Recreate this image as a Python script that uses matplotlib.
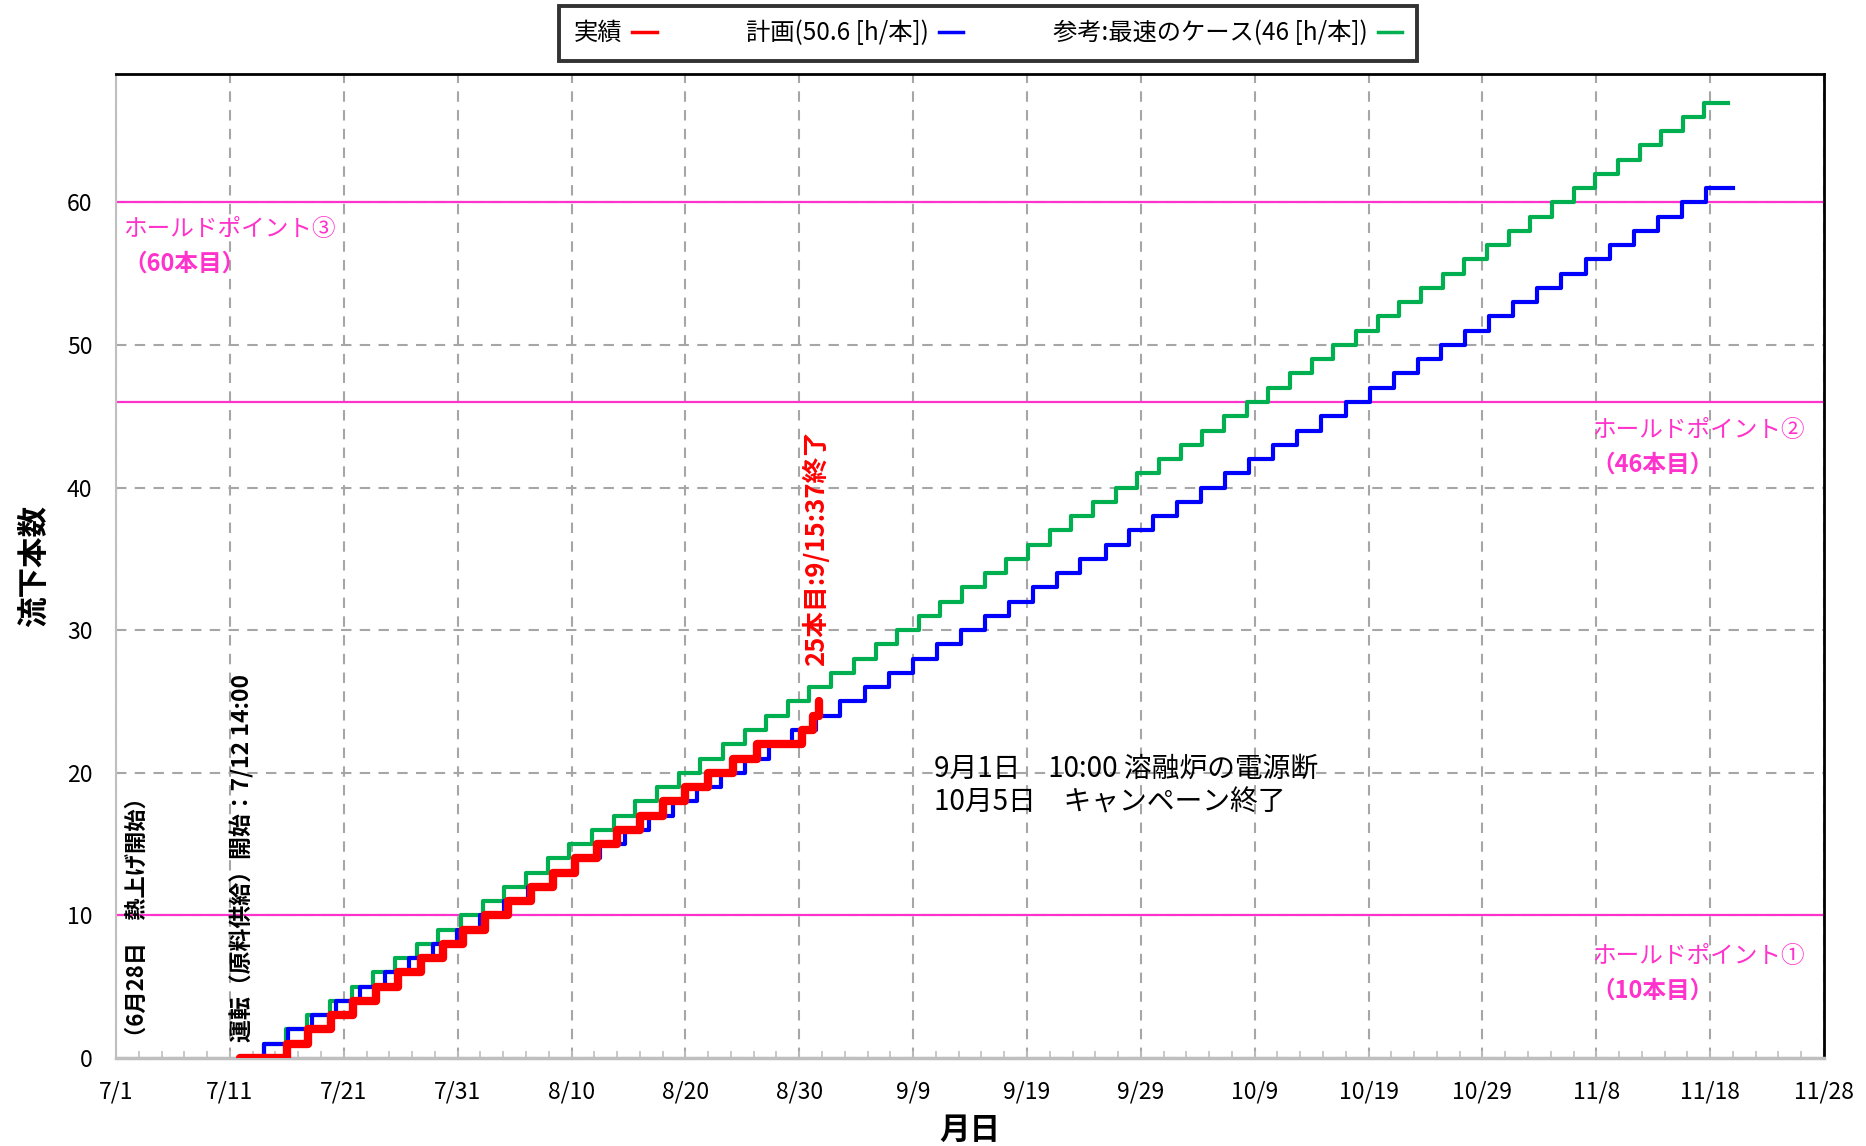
import matplotlib
matplotlib.use('Agg')
import matplotlib.pyplot as plt
from matplotlib.lines import Line2D
from matplotlib.ticker import MultipleLocator, FixedLocator

plt.rcParams['font.family'] = ['Noto Sans CJK JP', 'DejaVu Sans']

# ---- data (x = days since 7/1) ----
x_tick_pos = [0, 10, 20, 30, 40, 50, 60, 70, 80, 90, 100, 110, 120, 130, 140, 150]
x_tick_labels = ['7/1', '7/11', '7/21', '7/31', '8/10', '8/20', '8/30', '9/9',
                 '9/19', '9/29', '10/9', '10/19', '10/29', '11/8', '11/18', '11/28']
y_ticks = [0, 10, 20, 30, 40, 50, 60]

actual_start = 10.9
actual_steps = [15.0, 16.9, 18.9, 20.8, 22.8, 24.8, 26.8, 28.7, 30.5, 32.4,
                34.4, 36.4, 38.4, 40.3, 42.2, 44.0, 46.0, 48.0, 50.0, 52.0,
                54.2, 56.25, 60.2, 61.2, 61.75]

plan_start = 10.9
plan_steps = [13.0, 15.1, 17.2, 19.3, 21.4, 23.6, 25.7, 27.8, 29.9, 32.0,
              34.1, 36.2, 38.3, 40.4, 42.5, 44.7, 46.8, 48.9, 51.0, 53.1,
              55.2, 57.3, 59.4, 61.5, 63.6, 65.8, 67.9, 70.0, 72.1, 74.2,
              76.3, 78.4, 80.5, 82.6, 84.7, 86.9, 89.0, 91.1, 93.2, 95.3,
              97.4, 99.5, 101.6, 103.7, 105.8, 108.0, 110.1, 112.2, 114.3, 116.4,
              118.5, 120.6, 122.7, 124.8, 126.9, 129.1, 131.2, 133.3, 135.4, 137.5,
              139.6]
plan_end = 142.0

fast_start = 10.9
fast_steps = [13.0, 14.9, 16.8, 18.8, 20.7, 22.6, 24.5, 26.4, 28.3, 30.3,
              32.2, 34.1, 36.0, 37.9, 39.8, 41.8, 43.7, 45.6, 47.5, 49.4,
              51.3, 53.3, 55.2, 57.1, 59.0, 60.9, 62.8, 64.8, 66.7, 68.6,
              70.5, 72.4, 74.3, 76.3, 78.2, 80.1, 82.0, 83.9, 85.8, 87.8,
              89.7, 91.6, 93.5, 95.4, 97.3, 99.3, 101.2, 103.1, 105.0, 106.9,
              108.9, 110.8, 112.7, 114.6, 116.5, 118.4, 120.4, 122.3, 124.2, 126.1,
              128.0, 129.9, 131.9, 133.8, 135.7, 137.6, 139.5]
fast_end = 141.6

hold_points = [10, 46, 60]
hold_labels = ['ホールドポイント①', 'ホールドポイント②', 'ホールドポイント③']
hold_sub = ['（10本目）', '（46本目）', '（60本目）']

legend_labels = ['実績', '計画(50.6 [h/本])', '参考:最速のケース(46 [h/本])']

RED = '#FF0000'
BLUE = '#0000FF'
GREEN = '#00B050'
MAG = '#FF33CC'
GRID = '#A6A6A6'

fig = plt.figure(figsize=(18.66, 11.46), dpi=100)
ax = fig.add_axes([0.0622, 0.0768, 0.9153, 0.8586])

# step series
rx = [actual_start] + actual_steps
ry = list(range(len(rx)))
bx = [plan_start] + plan_steps + [plan_end]
by = list(range(len(plan_steps) + 1)) + [len(plan_steps)]
gx = [fast_start] + fast_steps + [fast_end]
gy = list(range(len(fast_steps) + 1)) + [len(fast_steps)]

ax.step(gx, gy, where='post', color=GREEN, lw=3, zorder=3)
ax.step(bx, by, where='post', color=BLUE, lw=3, zorder=4)
ax.step(rx, ry, where='post', color=RED, lw=6, zorder=5, solid_capstyle='round')

for hp in hold_points:
    ax.axhline(hp, color=MAG, lw=1.6, zorder=2)

ax.set_xlim(0, 150)
ax.set_ylim(0, 69)
ax.xaxis.set_major_locator(FixedLocator(x_tick_pos))
ax.set_xticklabels(x_tick_labels)
ax.xaxis.set_minor_locator(MultipleLocator(2))
ax.set_yticks(y_ticks)

ax.grid(True, which='major', color=GRID, lw=1.5, ls=(0, (5, 4)), zorder=1)
ax.tick_params(axis='x', which='both', direction='in', length=5, color='#BFBFBF',
               width=1.2, labelsize=16.5, pad=16)
ax.tick_params(axis='y', which='both', length=0, labelsize=16.5, pad=17)

for s in ['left', 'bottom']:
    ax.spines[s].set_color('#BFBFBF')
ax.spines['left'].set_linewidth(1.5)
ax.spines['bottom'].set_linewidth(2.5)
for s in ['top', 'right']:
    ax.spines[s].set_color('black')
    ax.spines[s].set_linewidth(2)

ax.set_xlabel('月日', fontsize=22, fontweight='bold', labelpad=8)
ax.set_ylabel('流下本数', fontsize=22, fontweight='bold', labelpad=12)

# hold point labels
ax.text(0.6, 58.1, hold_labels[2], color=MAG, fontsize=17, va='center', ha='left')
ax.text(0.6, 55.7, hold_sub[2], color=MAG, fontsize=17, fontweight='bold', va='center', ha='left')
ax.text(129.6, 44.0, hold_labels[1], color=MAG, fontsize=17, va='center', ha='left')
ax.text(129.6, 41.6, hold_sub[1], color=MAG, fontsize=17, fontweight='bold', va='center', ha='left')
ax.text(129.6, 7.1, hold_labels[0], color=MAG, fontsize=17, va='center', ha='left')
ax.text(129.6, 4.7, hold_sub[0], color=MAG, fontsize=17, fontweight='bold', va='center', ha='left')

# rotated annotations
ax.text(1.85, 0.7, '（6月28日　熱上げ開始）', rotation=90, fontsize=16,
        fontweight='bold', ha='center', va='bottom', color='black')
ax.text(11.06, 1.1, '運転（原料供給）開始：7/12 14:00', rotation=90, fontsize=16.5,
        fontweight='bold', ha='center', va='bottom', color='black')
ax.text(61.5, 27.5, '25本目:9/15:37終了', rotation=90, fontsize=18.5,
        fontweight='bold', ha='center', va='bottom', color=RED)

ax.text(71.8, 20.3, '9月1日　10:00 溶融炉の電源断', fontsize=20, ha='left', va='center')
ax.text(71.8, 17.9, '10月5日　キャンペーン終了', fontsize=20, ha='left', va='center')

# legend
handles = [Line2D([], [], color=RED, lw=2.5),
           Line2D([], [], color=BLUE, lw=2.5),
           Line2D([], [], color=GREEN, lw=2.5)]
leg = fig.legend(handles, legend_labels, loc='center', bbox_to_anchor=(0.5295, 0.971),
                 ncol=3, markerfirst=False, handlelength=1.0, handletextpad=0.4,
                 columnspacing=3.7, fontsize=17.5, frameon=True, fancybox=False,
                 borderpad=0.6, borderaxespad=0)
leg.get_frame().set_edgecolor('black')
leg.get_frame().set_linewidth(2.8)

fig.savefig('out.png', dpi=100)
